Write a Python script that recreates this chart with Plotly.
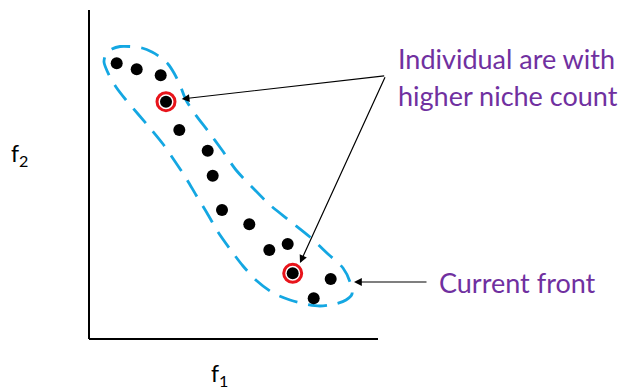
import plotly.graph_objects as go

# Population in objective space (f1, f2)
f1_vals = [2.77, 4.77, 7.17, 7.70, 9.03, 11.87, 12.37, 13.30, 16.03, 18.03, 19.87, 20.37, 24.17, 22.47]
f2_vals = [27.57, 26.97, 26.37, 23.73, 20.90, 18.83, 16.33, 12.90, 11.47, 8.90, 9.50, 6.57, 6.00, 4.07]

# Individuals with a higher niche count (indices into the population)
crowded_idx = [3, 11]

# Dashed outline enclosing the current front (f1, f2), traced clockwise
front_f1 = [4.9, 3.7, 2.7, 2.0, 1.5, 1.7, 2.3, 3.1, 4.1, 5.3, 6.3, 7.1, 7.9, 8.5, 9.1, 9.7,
            10.6, 11.9, 13.3, 14.7, 16.3, 18.1, 20.1, 22.1, 23.9, 25.4, 26.1, 26.3, 25.7,
            24.6, 23.1, 21.6, 20.1, 18.4, 16.8, 15.4, 14.1, 12.9, 11.8, 10.7, 9.7, 8.5,
            7.4, 6.1, 4.9]
front_f2 = [22.5, 23.9, 25.2, 26.4, 27.7, 28.5, 29.0, 29.25, 29.25, 29.1, 28.7, 28.2, 27.5,
            26.6, 25.4, 23.9, 22.5, 20.8, 18.9, 16.9, 15.2, 13.4, 11.8, 10.2, 8.5, 7.1, 5.7,
            4.5, 3.9, 3.5, 3.3, 3.5, 3.9, 4.6, 5.8, 7.3, 9.0, 10.7, 12.6, 14.4, 16.1, 17.9,
            19.5, 21.1, 22.5]

# Axis extents
x_axis_end = 28.9
y_axis_end = 32.9

PURPLE = "#7030A0"
BLUE = "#14A7E2"
FONT = "Lato"

fig = go.Figure()

# Axes drawn as plain lines from the origin
fig.add_shape(type="line", x0=0, y0=0, x1=0, y1=y_axis_end,
              line=dict(color="black", width=2))
fig.add_shape(type="line", x0=0, y0=0, x1=x_axis_end, y1=0,
              line=dict(color="black", width=2))

# Current front outline
fig.add_trace(go.Scatter(
    x=front_f1, y=front_f2, mode="lines",
    line=dict(color=BLUE, width=2.8, dash="19px,11px", shape="spline", smoothing=0.8),
    hoverinfo="skip", showlegend=False))

# Red rings around crowded individuals
fig.add_trace(go.Scatter(
    x=[f1_vals[i] for i in crowded_idx], y=[f2_vals[i] for i in crowded_idx],
    mode="markers",
    marker=dict(symbol="circle", size=18, color="white",
                line=dict(color="#E8141B", width=3)),
    hoverinfo="skip", showlegend=False))

# Population points
fig.add_trace(go.Scatter(
    x=f1_vals, y=f2_vals, mode="markers",
    marker=dict(symbol="circle", size=12, color="black"),
    showlegend=False))

# Arrows from the callout to the crowded individuals
callout_tail = (29.67, 26.33)
arrow_tips = [(9.27, 24.0), (21.1, 7.6)]
for tx, ty in arrow_tips:
    fig.add_annotation(x=tx, y=ty, ax=callout_tail[0], ay=callout_tail[1],
                       xref="x", yref="y", axref="x", ayref="y",
                       showarrow=True, arrowhead=2, arrowsize=1.3,
                       arrowwidth=1.2, arrowcolor="black", text="")

# Arrow pointing at the front outline
fig.add_annotation(x=26.5, y=5.7, ax=33.9, ay=5.7,
                   xref="x", yref="y", axref="x", ayref="y",
                   showarrow=True, arrowhead=2, arrowsize=1.3,
                   arrowwidth=1.2, arrowcolor="black", text="")

# Callout texts
fig.add_annotation(x=30.7, y=28.1, xref="x", yref="y", xanchor="left", yanchor="middle",
                   text="Individual are with", showarrow=False,
                   font=dict(family=FONT, size=27, color=PURPLE))
fig.add_annotation(x=30.7, y=24.4, xref="x", yref="y", xanchor="left", yanchor="middle",
                   text="higher niche count", showarrow=False,
                   font=dict(family=FONT, size=27, color=PURPLE))
fig.add_annotation(x=34.8, y=5.7, xref="x", yref="y", xanchor="left", yanchor="middle",
                   text="Current front", showarrow=False,
                   font=dict(family=FONT, size=27, color=PURPLE))

# Axis titles
fig.add_annotation(x=-7.0, y=18.5, xref="x", yref="y", xanchor="center", yanchor="middle",
                   text="f<sub>2</sub>", showarrow=False,
                   font=dict(family=FONT, size=23, color="black"))
fig.add_annotation(x=13.0, y=-3.5, xref="x", yref="y", xanchor="center", yanchor="middle",
                   text="f<sub>1</sub>", showarrow=False,
                   font=dict(family=FONT, size=23, color="black"))

fig.update_layout(
    width=619, height=389,
    margin=dict(l=0, r=0, t=0, b=0),
    paper_bgcolor="white", plot_bgcolor="white",
    xaxis=dict(range=[-8.9, 53.0], visible=False, fixedrange=True),
    yaxis=dict(range=[-5.0, 33.9], visible=False, fixedrange=True),
)

fig.write_html("out.html")
